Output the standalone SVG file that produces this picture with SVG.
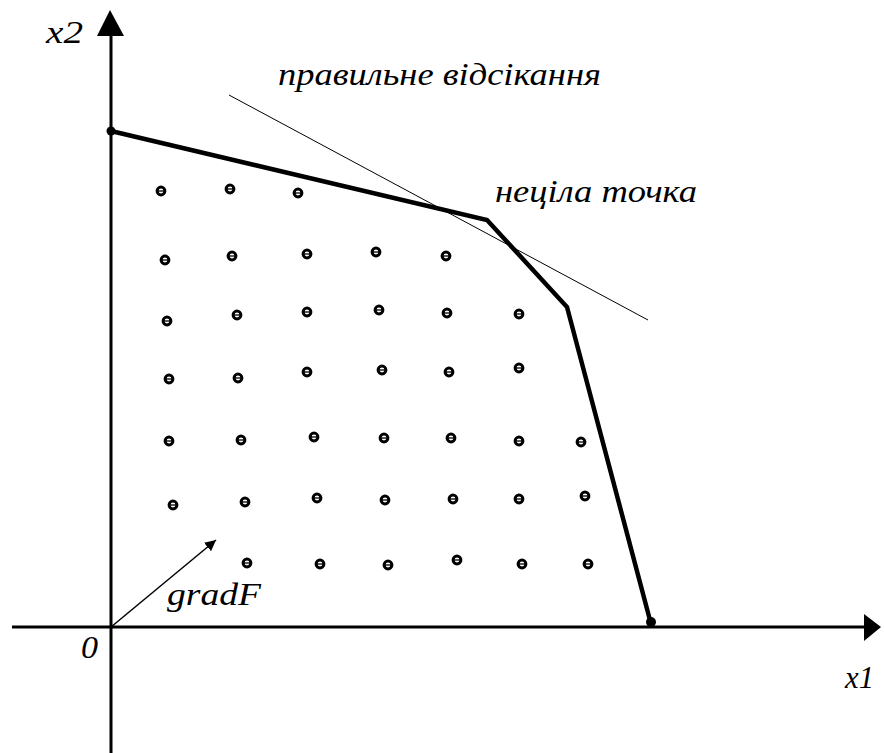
<svg xmlns="http://www.w3.org/2000/svg" width="884" height="753" viewBox="0 0 884 753">
<style>
.lbl{font-family:"Liberation Serif","DejaVu Serif",serif;font-style:italic;font-size:32px;fill:#000}
.pt{fill:#fff;stroke:#000;stroke-width:3}
.bar{stroke:#000;stroke-width:1.3}
</style>
<defs>
<marker id="ah" viewBox="0 0 10 10" refX="10" refY="5" markerWidth="11" markerHeight="11" markerUnits="userSpaceOnUse" orient="auto">
<path d="M0,0 L10,5 L0,10 z" fill="#000"/>
</marker>
<g id="dot"><circle class="pt" r="3.9"/><line class="bar" x1="-3" y1="0" x2="3" y2="0"/></g>
</defs>
<rect width="884" height="753" fill="#fff"/>
<g id="connectors">
<line x1="111" y1="753" x2="111" y2="34" stroke="#000" stroke-width="3"/>
<path d="M110,10 L124,36 L97,36 z" fill="#000"/>
<line x1="12" y1="627" x2="864" y2="627" stroke="#000" stroke-width="3"/>
<path d="M881,627 L864,614 L864,641 z" fill="#000"/>
<polyline points="111,131 487,220 567,307 651,624" fill="none" stroke="#000" stroke-width="4.5" stroke-linejoin="miter"/>
<circle cx="111" cy="131" r="4.5" fill="#000"/>
<circle cx="651" cy="622" r="5" fill="#000"/>
<line x1="229" y1="95" x2="648" y2="320" stroke="#000" stroke-width="1"/>
<line x1="111" y1="627" x2="216" y2="540" stroke="#000" stroke-width="1.5" marker-end="url(#ah)"/>
</g>
<g id="points">
<use href="#dot" x="161" y="191"/><use href="#dot" x="230" y="189"/><use href="#dot" x="298" y="193"/>
<use href="#dot" x="165" y="260"/><use href="#dot" x="232" y="256"/><use href="#dot" x="307" y="254"/><use href="#dot" x="376" y="252"/><use href="#dot" x="446" y="256"/>
<use href="#dot" x="167" y="321"/><use href="#dot" x="237" y="315"/><use href="#dot" x="307" y="312"/><use href="#dot" x="379" y="310"/><use href="#dot" x="447" y="313"/><use href="#dot" x="519" y="314"/>
<use href="#dot" x="169" y="379"/><use href="#dot" x="238" y="378"/><use href="#dot" x="307" y="372"/><use href="#dot" x="382" y="370"/><use href="#dot" x="449" y="372"/><use href="#dot" x="519" y="368"/>
<use href="#dot" x="169" y="441"/><use href="#dot" x="241" y="440"/><use href="#dot" x="314" y="437"/><use href="#dot" x="384" y="438"/><use href="#dot" x="451" y="438"/><use href="#dot" x="519" y="441"/><use href="#dot" x="581" y="442"/>
<use href="#dot" x="173" y="505"/><use href="#dot" x="245" y="502"/><use href="#dot" x="317" y="498"/><use href="#dot" x="385" y="500"/><use href="#dot" x="453" y="499"/><use href="#dot" x="519" y="499"/><use href="#dot" x="585" y="496"/>
<use href="#dot" x="247" y="563"/><use href="#dot" x="320" y="564"/><use href="#dot" x="388" y="565"/><use href="#dot" x="457" y="560"/><use href="#dot" x="522" y="564"/><use href="#dot" x="588" y="564"/>
</g>
<g id="labels">
<text class="lbl" x="46" y="43" textLength="37" lengthAdjust="spacingAndGlyphs">x2</text>
<text class="lbl" x="278" y="85" textLength="323" lengthAdjust="spacingAndGlyphs">правильне відсікання</text>
<text class="lbl" x="495" y="202" textLength="202" lengthAdjust="spacingAndGlyphs">неціла точка</text>
<text class="lbl" x="167" y="605" textLength="94" lengthAdjust="spacingAndGlyphs">gradF</text>
<text class="lbl" x="81" y="658" textLength="17" lengthAdjust="spacingAndGlyphs">0</text>
<text class="lbl" x="845" y="688" textLength="29" lengthAdjust="spacingAndGlyphs">x1</text>
</g>
</svg>
